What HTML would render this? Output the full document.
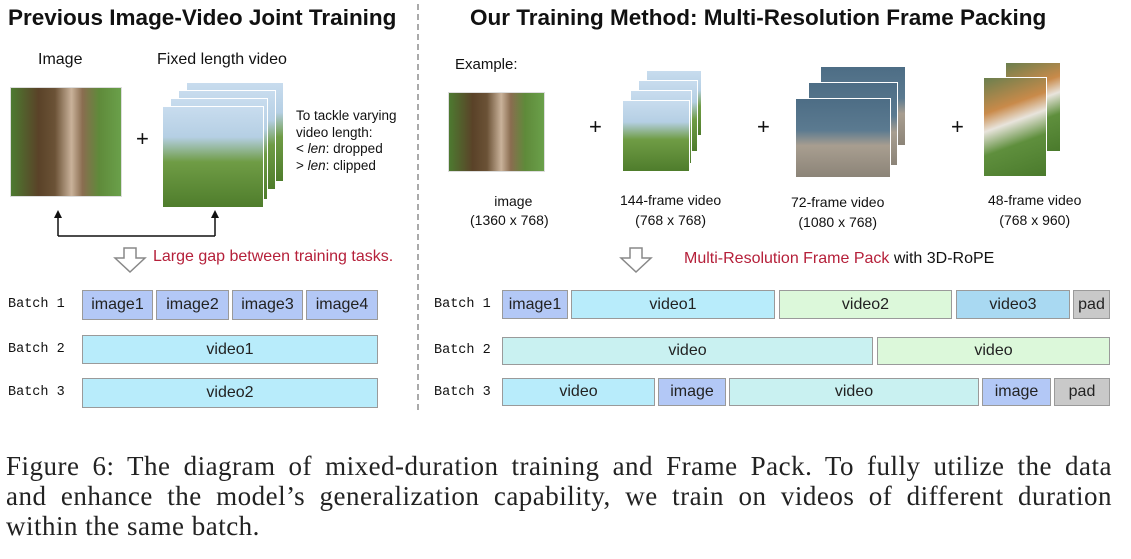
<!DOCTYPE html>
<html><head><meta charset="utf-8"><style>
body{margin:0;width:1131px;height:559px;background:#fff;position:relative;overflow:hidden;font-family:"Liberation Sans",sans-serif;color:#111}
.a{position:absolute}
.t{position:absolute;white-space:nowrap}
.b{position:absolute;border:1px solid #9a9a9a;box-sizing:border-box;display:flex;align-items:center;justify-content:center;font-size:16px;color:#222}
.lab{position:absolute;font-family:"Liberation Mono",monospace;font-size:13.5px;white-space:nowrap}
.im{background:#b3c8f6}.v1{background:#b8ecfb}.v2{background:#dcf8da}.v3{background:#a9d9f2}.pd{background:#c9c9c9}.vt{background:#c9f1f1}
.ph{position:absolute;border:1px solid #ddd;box-sizing:border-box}
.tree{background:linear-gradient(90deg,#4d7a30 0%,#5a4228 25%,#6b5236 40%,#c9b29a 55%,#8a6d50 65%,#5f8a3a 80%,#6aa04a 100%)}
.sky{background:linear-gradient(180deg,#c8dcee 0%,#b5cfe4 30%,#6f9c45 55%,#4f7d2c 100%)}
.sea{background:linear-gradient(180deg,#4d6d85 0%,#5b7a90 40%,#a89e90 60%,#8c8478 100%)}
.grass{background:linear-gradient(160deg,#6a7f4e 0%,#c98a4a 30%,#e8e4dc 45%,#5f8f3d 65%,#4a7a2c 100%)}
.cap{position:absolute;left:6px;width:1106px;font-family:"Liberation Serif",serif;font-size:27px;letter-spacing:0.5px;line-height:30px;white-space:nowrap;color:#222}
.j{text-align:justify;text-align-last:justify;white-space:normal}
</style></head><body>
<div class="t" style="left:8px;top:5px;font-size:22.5px;font-weight:bold">Previous Image-Video Joint Training</div>
<div class="t" style="left:470px;top:5px;font-size:22.5px;font-weight:bold">Our Training Method: Multi-Resolution Frame Packing</div>
<div class="a" style="left:417px;top:4px;height:406px;border-left:2px dashed #aaa"></div>

<div class="t" style="left:38px;top:51px;font-size:16px">Image</div>
<div class="ph tree" style="left:10px;top:87px;width:112px;height:110px"></div>
<div class="t" style="left:136px;top:126px;font-size:22px">+</div>
<div class="t" style="left:157px;top:51px;font-size:16px">Fixed length video</div>
<div class="ph sky" style="left:186px;top:82px;width:98px;height:100px;border-color:#fff"></div>
<div class="ph sky" style="left:178px;top:90px;width:98px;height:100px;border:1px solid #fff"></div>
<div class="ph sky" style="left:170px;top:98px;width:98px;height:102px;border:1px solid #fff"></div>
<div class="ph sky" style="left:162px;top:106px;width:102px;height:102px;border:1px solid #fff"></div>
<div class="t" style="left:296px;top:108px;font-size:13.5px;line-height:16.5px">To tackle varying<br>video length:<br>&lt; <i>len</i>: dropped<br>&gt; <i>len</i>: clipped</div>
<svg class="a" style="left:0;top:0" width="1131" height="300">
<path d="M58 236 V215 M215 236 V215 M58 236 H215" stroke="#111" stroke-width="1.5" fill="none"/>
<path d="M54 218 L58 210 L62 218Z M211 218 L215 210 L219 218Z" fill="#111"/>
<path d="M124 248 H136 V258 H145 L130 272 L115 258 H124Z" fill="#fff" stroke="#888" stroke-width="1.5"/>
<path d="M630 248 H642 V258 H651 L636 272 L621 258 H630Z" fill="#fff" stroke="#888" stroke-width="1.5"/>
</svg>
<div class="t" style="left:153px;top:248px;font-size:16px;color:#b5203a">Large gap between training tasks.</div>

<div class="t" style="left:455px;top:56px;font-size:15px">Example:</div>
<div class="ph tree" style="left:448px;top:92px;width:97px;height:80px"></div>
<div class="t" style="left:478px;top:192px;font-size:14px;text-align:center;line-height:19px">image<br><span style="margin-left:-8px">(1360 x 768)</span></div>
<div class="t" style="left:589px;top:114px;font-size:22px">+</div>
<div class="ph sky" style="left:646px;top:70px;width:56px;height:66px;border-color:#fff"></div>
<div class="ph sky" style="left:638px;top:80px;width:60px;height:72px;border-color:#fff"></div>
<div class="ph sky" style="left:630px;top:90px;width:62px;height:74px;border-color:#fff"></div>
<div class="ph sky" style="left:622px;top:100px;width:68px;height:72px;border-color:#fff"></div>
<div class="t" style="left:620px;top:190px;font-size:14px;line-height:20px;text-align:center">144-frame video<br>(768 x 768)</div>
<div class="t" style="left:757px;top:114px;font-size:22px">+</div>
<div class="ph sea" style="left:820px;top:66px;width:86px;height:80px;border-color:#fff"></div>
<div class="ph sea" style="left:808px;top:82px;width:90px;height:84px;border-color:#fff"></div>
<div class="ph sea" style="left:795px;top:98px;width:96px;height:80px;border-color:#fff"></div>
<div class="t" style="left:791px;top:192px;font-size:14px;line-height:20px;text-align:center">72-frame video<br>(1080 x 768)</div>
<div class="t" style="left:951px;top:114px;font-size:22px">+</div>
<div class="ph grass" style="left:1005px;top:62px;width:56px;height:90px;border-color:#fff"></div>
<div class="ph grass" style="left:983px;top:77px;width:64px;height:100px;border-color:#fff"></div>
<div class="t" style="left:988px;top:190px;font-size:14px;line-height:20px;text-align:center">48-frame video<br>(768 x 960)</div>
<div class="t" style="left:684px;top:250px;font-size:16px"><span style="color:#b5203a">Multi-Resolution Frame Pack</span> with 3D-RoPE</div>

<div class="lab" style="left:8px;top:297px">Batch 1</div>
<div class="lab" style="left:8px;top:342px">Batch 2</div>
<div class="lab" style="left:8px;top:385px">Batch 3</div>
<div class="b im" style="left:82px;top:290px;width:71px;height:30px">image1</div>
<div class="b im" style="left:156px;top:290px;width:73px;height:30px">image2</div>
<div class="b im" style="left:232px;top:290px;width:71px;height:30px">image3</div>
<div class="b im" style="left:306px;top:290px;width:72px;height:30px">image4</div>
<div class="b v1" style="left:82px;top:335px;width:296px;height:29px">video1</div>
<div class="b v1" style="left:82px;top:378px;width:296px;height:30px">video2</div>

<div class="lab" style="left:434px;top:297px">Batch 1</div>
<div class="lab" style="left:434px;top:343px">Batch 2</div>
<div class="lab" style="left:434px;top:385px">Batch 3</div>
<div class="b im" style="left:502px;top:290px;width:66px;height:29px">image1</div>
<div class="b v1" style="left:571px;top:290px;width:204px;height:29px">video1</div>
<div class="b v2" style="left:779px;top:290px;width:173px;height:29px">video2</div>
<div class="b v3" style="left:956px;top:290px;width:114px;height:29px">video3</div>
<div class="b pd" style="left:1073px;top:290px;width:37px;height:29px">pad</div>
<div class="b vt" style="left:502px;top:337px;width:371px;height:28px">video</div>
<div class="b v2" style="left:877px;top:337px;width:233px;height:28px">video</div>
<div class="b v1" style="left:502px;top:378px;width:153px;height:28px">video</div>
<div class="b im" style="left:658px;top:378px;width:68px;height:28px">image</div>
<div class="b vt" style="left:729px;top:378px;width:250px;height:28px">video</div>
<div class="b im" style="left:982px;top:378px;width:69px;height:28px">image</div>
<div class="b pd" style="left:1054px;top:378px;width:56px;height:28px">pad</div>

<div class="cap j" style="top:451px">Figure 6: The diagram of mixed-duration training and Frame Pack. To fully utilize the data</div>
<div class="cap j" style="top:481px">and enhance the model’s generalization capability, we train on videos of different duration</div>
<div class="cap" style="top:511px">within the same batch.</div>
</body></html>
